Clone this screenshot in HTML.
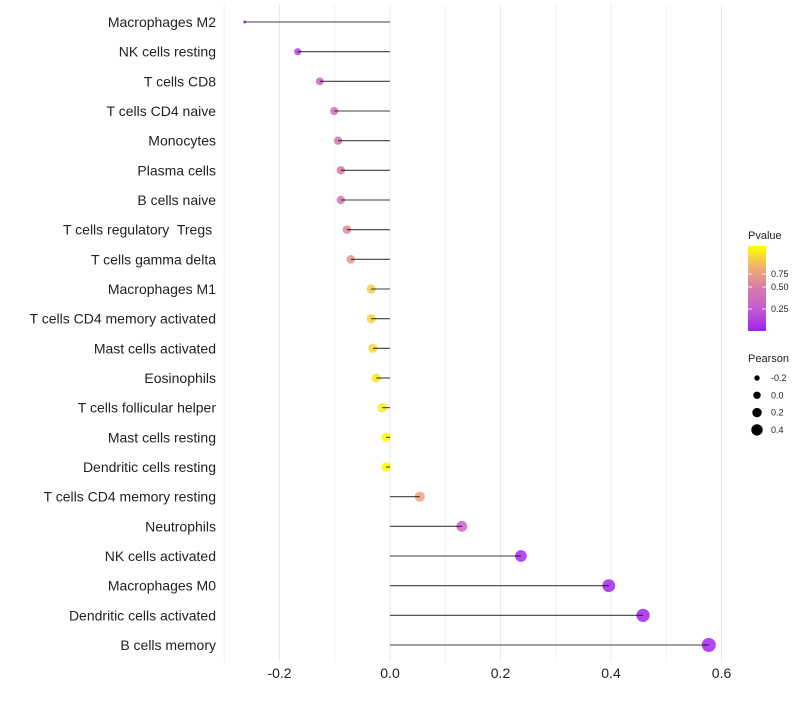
<!DOCTYPE html>
<html><head><meta charset="utf-8"><style>
body{margin:0;background:#fff;}
svg text{font-family:"Liberation Sans",sans-serif;white-space:pre;}
</style></head><body>
<svg id="c" width="800" height="700"></svg>
<script>
const categories=["Macrophages M2","NK cells resting","T cells CD8","T cells CD4 naive","Monocytes","Plasma cells","B cells naive","T cells regulatory  Tregs ","T cells gamma delta","Macrophages M1","T cells CD4 memory activated","Mast cells activated","Eosinophils","T cells follicular helper","Mast cells resting","Dendritic cells resting","T cells CD4 memory resting","Neutrophils","NK cells activated","Macrophages M0","Dendritic cells activated","B cells memory"];
const pearson=[-0.263,-0.167,-0.127,-0.101,-0.094,-0.089,-0.089,-0.078,-0.071,-0.034,-0.034,-0.031,-0.025,-0.014,-0.007,-0.007,0.054,0.130,0.237,0.396,0.458,0.577];
const pvalue=[0.02,0.15,0.35,0.42,0.46,0.48,0.48,0.58,0.64,0.84,0.86,0.88,0.92,0.95,0.99,0.99,0.70,0.30,0.05,0.02,0.02,0.02];
const xTicks=[-0.2,0.0,0.2,0.4,0.6];
const xTickLabels=["-0.2","0.0","0.2","0.4","0.6"];
const minorTicks=[-0.3,-0.1,0.1,0.3,0.5];
const legendSizes=[-0.2,0.0,0.2,0.4];

const NS="http://www.w3.org/2000/svg";
const svg=document.getElementById('c');
function mk(t,a,p){const e=document.createElementNS(NS,t);for(const k in a)e.setAttribute(k,a[k]);(p||svg).appendChild(e);return e;}
const x=v=>390+v*552.5;
const y=i=>22+i*(623/(categories.length-1));
const stops=[[0,[160,32,240]],[0.25,[196,90,210]],[0.5,[216,122,170]],[0.75,[240,176,112]],[1,[255,255,0]]];
function col(p){for(let i=1;i<stops.length;i++){if(p<=stops[i][0]){const a=stops[i-1],b=stops[i],t=(p-a[0])/(b[0]-a[0]);return 'rgb('+a[1].map((c,j)=>Math.round(c+(b[1][j]-c)*t)).join(',')+')';}}return 'rgb(255,255,0)';}
const pmin=Math.min(...pearson),pmax=Math.max(...pearson);
const rad=v=>1.5+5.5*Math.pow(Math.max(0,(v-pmin)/(pmax-pmin)),0.45);

minorTicks.forEach(t=>{const l=mk('line',{x1:x(t),x2:x(t),y1:5,y2:662,stroke:'#f0f0f0','stroke-width':1});

});
xTicks.forEach((t,i)=>{const l=mk('line',{x1:x(t),x2:x(t),y1:5,y2:662,stroke:'#ebebeb','stroke-width':1});


const tx=mk('text',{x:x(t),y:678,'text-anchor':'middle','font-size':14,fill:'#222'});tx.textContent=xTickLabels[i];

});

categories.forEach((c,i)=>{
const tx=mk('text',{x:216,y:y(i)+5,'text-anchor':'end','font-size':14,fill:'#222'});tx.textContent=c;


const cc=mk('circle',{cx:x(pearson[i]),cy:y(i),r:rad(pearson[i]),fill:col(pvalue[i]),'fill-opacity':0.85});


const l=mk('line',{x1:x(0),x2:x(pearson[i]),y1:y(i),y2:y(i),stroke:'#000','stroke-width':1.1,'stroke-opacity':0.75});


});

const g=mk('g',{});


const t1=mk('text',{x:748,y:239,'font-size':11,fill:'#222'},g);t1.textContent='Pvalue';
const defs=mk('defs',{},g);const lg=mk('linearGradient',{id:'gr',x1:0,y1:1,x2:0,y2:0},defs);
stops.forEach(s=>mk('stop',{offset:s[0],'stop-color':col(s[0])},lg));
const bar=mk('rect',{x:748,y:246,width:18,height:85,fill:'url(#gr)'},g);


[[0.75,274],[0.5,287],[0.25,309]].forEach(([v,yy])=>{
mk('line',{x1:748,x2:752,y1:yy,y2:yy,stroke:'#fff','stroke-width':0.8},g);mk('line',{x1:762,x2:766,y1:yy,y2:yy,stroke:'#fff','stroke-width':0.8},g);
const t=mk('text',{x:771,y:yy+3,'font-size':9,fill:'#222'},g);t.textContent=v.toFixed(2);});
const t2=mk('text',{x:748,y:362,'font-size':11,fill:'#222'},g);t2.textContent='Pearson';
const lr=[2.7,3.7,4.7,5.7];
legendSizes.forEach((v,i)=>{const yy=378+i*17.3;
const c=mk('circle',{cx:757,cy:yy,r:lr[i],fill:'#000'},g);


const t=mk('text',{x:771,y:yy+3,'font-size':9,fill:'#222'},g);t.textContent=v.toFixed(1);});
</script>
</body></html>
